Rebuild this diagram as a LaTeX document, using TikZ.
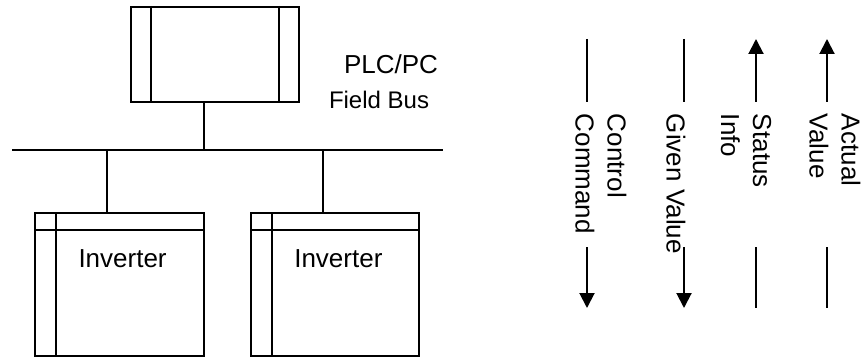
\documentclass[tikz,border=0pt]{standalone}
\usepackage{fontspec}
\setmainfont{Liberation Sans}
\usetikzlibrary{arrows.meta}
\begin{document}
\begin{tikzpicture}[x=0.5pt,y=-0.5pt,line width=1pt,
  box/.style={draw,inner sep=0pt},
  lbl/.style={inner sep=0pt,font=\fontsize{13}{16}\selectfont},
  small/.style={inner sep=0pt,font=\fontsize{12}{14}\selectfont},
  vlbl/.style={inner sep=0pt,rotate=-90,anchor=west,align=left,font=\fontsize{13}{16}\selectfont},
  tip/.style={-{Triangle[length=7.5pt,width=7.5pt]}}]
\useasboundingbox (0,0) rectangle (862,358);
% PLC box
\node[box,minimum width=84pt,minimum height=47.5pt] (plc) at (215,54.5) {};
\draw ([xshift=10.5pt]plc.north west) -- ([xshift=10.5pt]plc.south west);
\draw ([xshift=-10.5pt]plc.north east) -- ([xshift=-10.5pt]plc.south east);
\node[lbl,anchor=base west] (plctext) at (343,73.5) {PLC/PC};
\node[small,anchor=base west] (fbtext) at (328,108.5) {Field Bus};
% bus
\coordinate (busL) at (12,150);
\coordinate (busR) at (443,150);
\draw (busL) -- (busR);
\coordinate (d0) at (204,150);
\draw (d0 |- plc.south) -- (d0);
% inverters
\node[box,minimum width=84.5pt,minimum height=71.5pt] (inv1) at (119.5,284.5) {};
\node[box,minimum width=84pt,minimum height=71.5pt] (inv2) at (335,284.5) {};
\foreach \n in {inv1,inv2}{
  \draw ([xshift=11pt]\n.north west) -- ([xshift=11pt]\n.south west);
  \draw ([yshift=-9pt]\n.north west) -- ([yshift=-9pt]\n.north east);
}
\coordinate (d1) at (107,150);
\coordinate (d2) at (323,150);
\draw (d1) -- (d1 |- inv1.north);
\draw (d2) -- (d2 |- inv2.north);
\node[lbl,anchor=base west] (inv1text) at (77.5,267.3) {Inverter};
\node[lbl,anchor=base west] (inv2text) at (293.3,267.3) {Inverter};
% signal arrows
\foreach \nm/\x in {a/587,b/684,c/756,d/827}{
  \coordinate (\nm t1) at (\x,39);
  \coordinate (\nm t2) at (\x,102);
  \coordinate (\nm b1) at (\x,247);
  \coordinate (\nm b2) at (\x,308);
}
\draw (at1) -- (at2);
\draw[tip] (ab1) -- (ab2);
\draw (bt1) -- (bt2);
\draw[tip] (bb1) -- (bb2);
\draw[tip] (ct2) -- (ct1);
\draw (cb1) -- (cb2);
\draw[tip] (dt2) -- (dt1);
\draw (db1) -- (db2);
\node[vlbl] (ctl) at (601,113) {Control\\Command};
\node[vlbl] (giv) at (676,113) {Given Value};
\node[vlbl] (sta) at (746,113) {Status\\Info};
\node[vlbl] (act) at (835,113) {Actual\\Value};
\end{tikzpicture}
\end{document}
